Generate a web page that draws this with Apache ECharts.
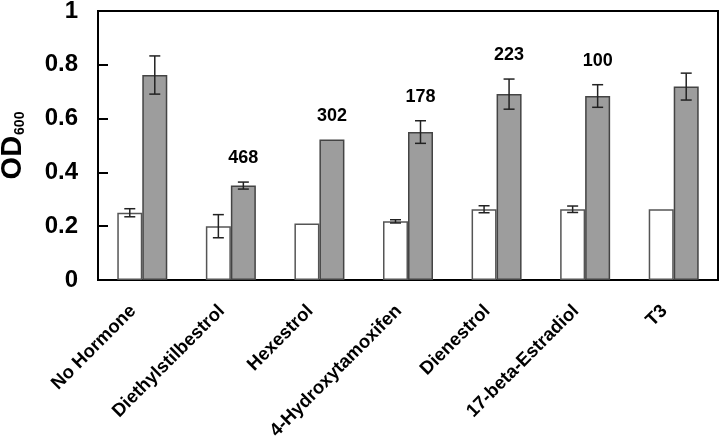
<!DOCTYPE html>
<html>
<head>
<meta charset="utf-8">
<script src="https://cdn.jsdelivr.net/npm/echarts@6/dist/echarts.min.js"></script>
<style>html,body{margin:0;padding:0;background:#fff}#c{width:720px;height:441px}</style>
</head>
<body>
<div id="c"></div>
<script>
var categories = ['No Hormone', 'Diethylstilbestrol', 'Hexestrol', '4-Hydroxytamoxifen', 'Dienestrol', '17-beta-Estradiol', 'T3'];
var whiteValues = [0.25, 0.20, 0.21, 0.218, 0.263, 0.263, 0.263];
var whiteErrors = [0.015, 0.043, null, 0.006, 0.013, 0.012, null];
var grayValues = [0.762, 0.351, 0.522, 0.550, 0.691, 0.684, 0.719];
var grayErrors = [0.071, 0.013, null, 0.042, 0.056, 0.042, 0.050];
var foldLabels = ['', '468', '302', '178', '223', '100', ''];
var yTicks = [0, 0.2, 0.4, 0.6, 0.8, 1];

var FONT = '"Liberation Sans", Arial, Helvetica, sans-serif';
var BAR_W = 25;

function errData(vals, errs) {
  return vals.map(function (v, i) { return [i, v, errs[i] == null ? 0 : errs[i], errs[i] == null ? 0 : 1]; });
}

function makeRender(offset, withLabels) {
  return function (params, api) {
    var i = api.value(0), v = api.value(1), e = api.value(2), has = api.value(3);
    var lab = withLabels ? foldLabels[i] : '';
    var c = api.coord([i, v]);
    var x = c[0] + offset;
    var children = [];
    var topY = c[1];
    if (has) {
      var hi = api.coord([i, v + e])[1];
      var lo = api.coord([i, v - e])[1];
      topY = hi;
      var st = { stroke: '#222', lineWidth: 1.5 };
      children.push({ type: 'line', shape: { x1: x, y1: hi, x2: x, y2: lo }, style: st });
      children.push({ type: 'line', shape: { x1: x - 5.5, y1: hi, x2: x + 5.5, y2: hi }, style: st });
      children.push({ type: 'line', shape: { x1: x - 5.5, y1: lo, x2: x + 5.5, y2: lo }, style: st });
    }
    if (lab) {
      children.push({ type: 'text', style: { text: lab, x: x, y: topY - 24, align: 'center', verticalAlign: 'middle', font: 'bold 18px ' + FONT, fill: '#000' } });
    }
    return { type: 'group', children: children };
  };
}

var chart = echarts.init(document.getElementById('c'), null, { renderer: 'canvas' });
chart.setOption({
  animation: false,
  backgroundColor: '#fff',
  grid: { left: 98, right: 2, top: 11, bottom: 161, show: true, borderColor: '#000', borderWidth: 2, backgroundColor: 'transparent', containLabel: false, outerBoundsMode: 'none' },
  xAxis: {
    type: 'category',
    data: categories,
    axisLine: { lineStyle: { color: '#000', width: 2 } },
    axisTick: { show: false },
    axisLabel: { interval: 0, rotate: 45, margin: 19, padding: [0, 13, 0, 0], color: '#000', fontFamily: FONT, fontWeight: 'bold', fontSize: 18.5 }
  },
  yAxis: {
    type: 'value',
    min: yTicks[0], max: yTicks[yTicks.length - 1], interval: 0.2,
    splitLine: { show: false },
    axisLine: { show: true, lineStyle: { color: '#000', width: 2 } },
    axisTick: { show: true, inside: true, length: 10, lineStyle: { color: '#000', width: 2 } },
    axisLabel: { color: '#000', fontFamily: FONT, fontWeight: 'bold', fontSize: 24, margin: 20 },
    name: '{a|OD}{b|600}',
    nameLocation: 'middle',
    nameRotate: 90,
    nameGap: 71,
    nameTextStyle: {
      rich: {
        a: { fontFamily: FONT, fontWeight: 'bold', fontSize: 29, color: '#000' },
        b: { fontFamily: FONT, fontWeight: 'bold', fontSize: 14, color: '#000', verticalAlign: 'bottom', padding: [4, 0, 0, 1] }
      }
    }
  },
  series: [
    { name: 'white', type: 'bar', data: whiteValues, barWidth: BAR_W, barGap: '0%',
      itemStyle: { color: '#fff', borderColor: '#555', borderWidth: 1.5 } },
    { name: 'gray', type: 'bar', data: grayValues, barWidth: BAR_W, barGap: '0%',
      itemStyle: { color: '#9d9d9d', borderColor: '#444', borderWidth: 1.5 } },
    { name: 'whiteErr', type: 'custom', data: errData(whiteValues, whiteErrors), renderItem: makeRender(-BAR_W / 2, false), z: 5 },
    { name: 'grayErr', type: 'custom', data: errData(grayValues, grayErrors), renderItem: makeRender(BAR_W / 2, true), z: 5 }
  ]
});
</script>
</body>
</html>
